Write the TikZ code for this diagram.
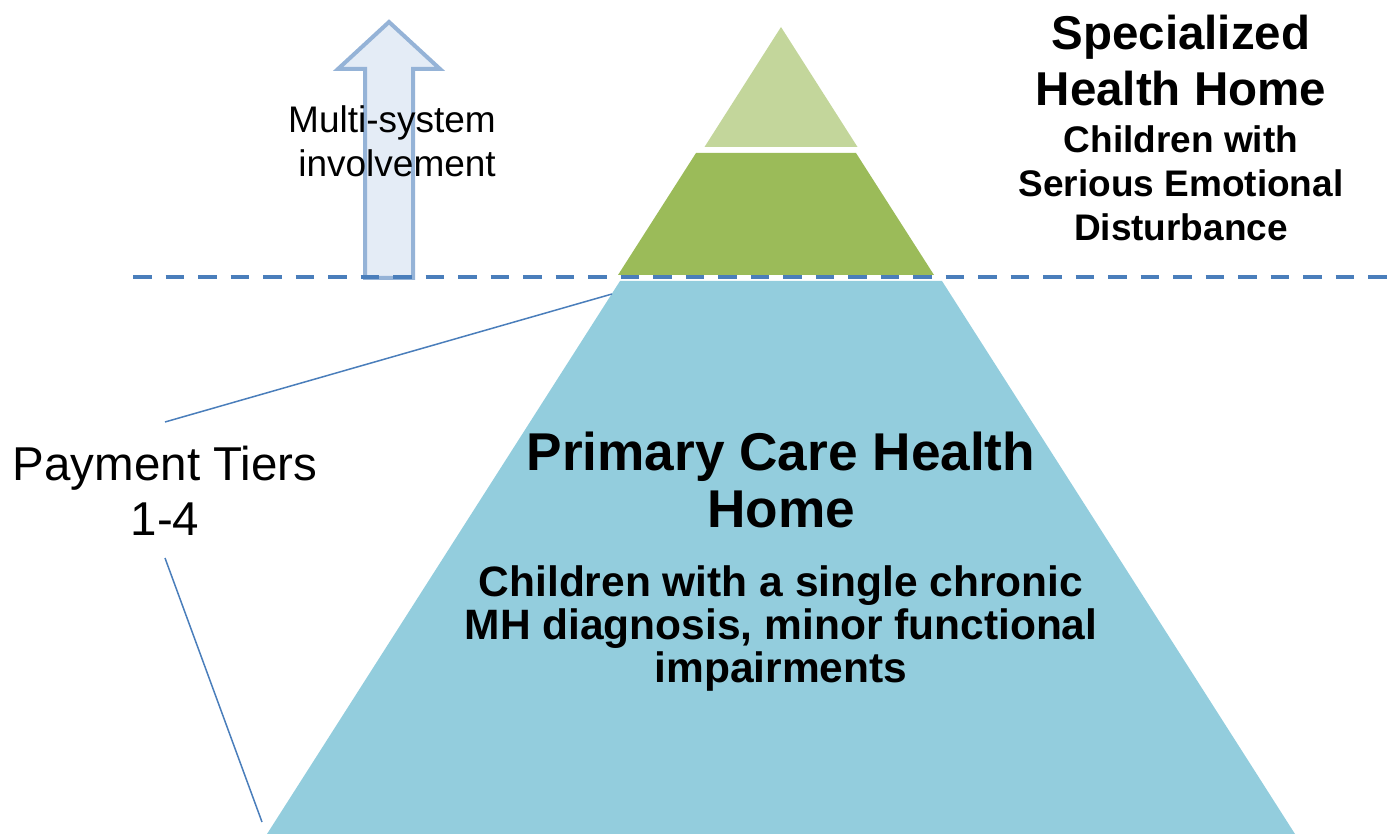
\documentclass[tikz,border=0pt]{standalone}
\usepackage{fontspec}
\setmainfont{Liberation Sans}
\definecolor{toptri}{HTML}{C3D69B}
\definecolor{midtrap}{HTML}{9BBB59}
\definecolor{basetrap}{HTML}{93CDDD}
\definecolor{dashblue}{HTML}{4A7EBB}
\definecolor{arrowline}{HTML}{95B3D7}
\definecolor{arrowfill}{HTML}{E4ECF6}
\tikzset{
  bigbold/.style={align=center, inner sep=0pt, anchor=north, font=\fontsize{47.5}{56}\selectfont\bfseries},
  subbold/.style={align=center, inner sep=0pt, anchor=north, font=\fontsize{37}{44}\selectfont\bfseries},
  plainlbl/.style={align=center, inner sep=0pt, anchor=north},
  waterline/.style={draw=dashblue, line width=4pt, dash pattern=on 18.5pt off 14pt},
  leader/.style={draw=dashblue, line width=1.5pt},
  uparrow/.style={draw=arrowline, fill=arrowfill, line width=4pt, line join=miter}
}
\begin{document}
\begin{tikzpicture}[x=1pt, y=-1pt]
\useasboundingbox (0,0) rectangle (1397,834);
% pyramid levels
\fill[toptri] (781,27) -- (857.5,147) -- (704.5,147) -- cycle;
\fill[midtrap] (696,153) -- (856,153) -- (934,275) -- (618,275) -- cycle;
\fill[basetrap] (620,281) -- (942,281) -- (1295,834) -- (267,834) -- cycle;
% arrow
\draw[uparrow] (365,278) -- (365,69) -- (338,69) -- (389,22) -- (440,69) -- (413,69) -- (413,278) -- cycle;
% waterline
\coordinate (wl) at (133,277.5);
\coordinate (wr) at (1397,277.5);
\draw[waterline] (wl) -- (wr);
% texts
\node[align=right, inner sep=0pt, anchor=north east, font=\fontsize{37}{44}\selectfont] (multi) at (496,105) {Multi-system\\involvement};
\node[bigbold] (spec) at (1181,14.5) {Specialized\\Health Home};
\node[subbold] (sed) at (1181,125) {Children with\\Serious Emotional\\Disturbance};
\node[plainlbl, font=\fontsize{47.5}{55}\selectfont] (pay) at (165,446) {Payment Tiers\\1-4};
\node[align=center, inner sep=0pt, anchor=north, font=\fontsize{53.2}{57}\selectfont\bfseries] (pchh) at (781,432) {Primary Care Health\\Home};
\node[align=center, inner sep=0pt, anchor=north, font=\fontsize{42.5}{43}\selectfont\bfseries] (single) at (781,565) {Children with a single chronic\\MH diagnosis, minor functional\\impairments};
% leader lines
\coordinate (payTop) at (165,422);
\coordinate (payBot) at (165,558);
\coordinate (pyrTop) at (612,294);
\coordinate (pyrBot) at (262,822);
\draw[leader] (payTop) -- (pyrTop);
\draw[leader] (payBot) -- (pyrBot);
\end{tikzpicture}
\end{document}
